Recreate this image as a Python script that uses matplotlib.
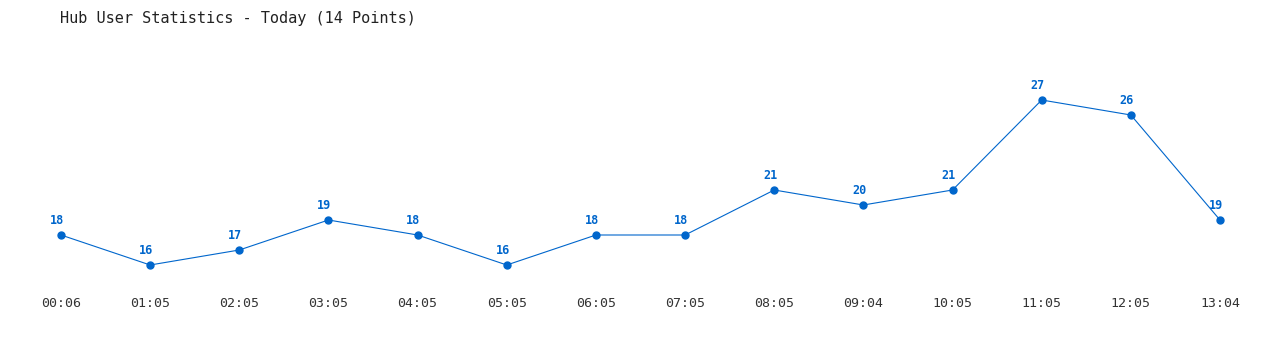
import matplotlib.pyplot as plt

times = ['00:06', '01:05', '02:05', '03:05', '04:05', '05:05', '06:05',
         '07:05', '08:05', '09:04', '10:05', '11:05', '12:05', '13:04']
users = [18, 16, 17, 19, 18, 16, 18, 18, 21, 20, 21, 27, 26, 19]

blue = '#0066cc'
mono = 'DejaVu Sans Mono'

fig = plt.figure(figsize=(12.8, 3.5), dpi=100)
# axes: x index 0..13 -> px 61..1220, y 14..30 -> px 295..55
ax = fig.add_axes([61 / 1280, 55 / 350, (1220 - 61) / 1280, 240 / 350])
x = list(range(len(times)))
ax.plot(x, users, color=blue, linewidth=0.8, marker='o', markersize=5,
        clip_on=False)
for xi, v in zip(x, users):
    ax.annotate(str(v), (xi, v), xytext=(-3, 6), textcoords='offset points',
                ha='center', va='bottom', fontsize=8.5, fontweight='bold',
                color=blue, family=mono)

ax.set_xlim(0, len(times) - 1)
ax.set_ylim(14, 30)
ax.set_xticks(x)
ax.set_xticklabels(times, family=mono, fontsize=9.5, color='#333333')
ax.tick_params(axis='x', length=0, pad=1.5)
ax.set_yticks([])
for s in ax.spines.values():
    s.set_visible(False)

fig.text(60 / 1280, 1 - 18 / 350, 'Hub User Statistics - Today (14 Points)',
         family=mono, fontsize=11, color='#222222', va='center', ha='left')

fig.savefig('out.png', dpi=100)
